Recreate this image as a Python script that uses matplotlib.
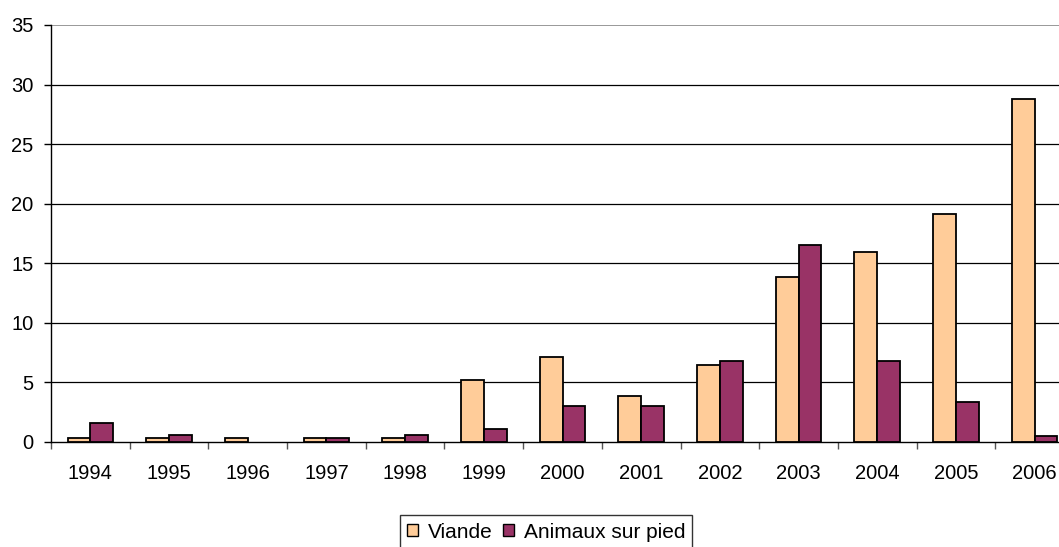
import numpy as np
import matplotlib.pyplot as plt
from matplotlib.patches import Patch

plt.rcParams['font.family'] = ['Liberation Sans', 'DejaVu Sans']

years = ['1994', '1995', '1996', '1997', '1998', '1999', '2000',
         '2001', '2002', '2003', '2004', '2005', '2006']
viande = [0.3, 0.3, 0.3, 0.3, 0.3, 5.2, 7.1, 3.8, 6.45, 13.85, 15.95, 19.1, 28.8]
animaux = [1.6, 0.6, 0.0, 0.3, 0.6, 1.1, 3.0, 3.0, 6.75, 16.5, 6.75, 3.3, 0.5]

c_viande = '#FFCC99'
c_animaux = '#993366'

fig = plt.figure(figsize=(10.59, 5.47), dpi=100)
ax = fig.add_axes([51 / 1059, 1 - 441.7 / 547, 1023 / 1059, (441.7 - 25) / 547])

x = np.arange(len(years))
w = 0.29
# zero values get no bar at all
v = np.where(np.array(viande) == 0, np.nan, viande)
a = np.where(np.array(animaux) == 0, np.nan, animaux)
ax.bar(x - w / 2, v, w, color=c_viande, edgecolor='black', linewidth=1.3, zorder=3)
ax.bar(x + w / 2, a, w, color=c_animaux, edgecolor='black', linewidth=1.3, zorder=3)

ax.set_xlim(-0.5, len(years) - 0.5)
ax.set_ylim(0, 35)
ax.set_yticks(range(0, 36, 5))
ax.set_xticks(x)
ax.set_xticklabels(years)
ax.set_xticks(np.arange(-0.5, len(years), 1), minor=True)
ax.tick_params(axis='x', which='major', length=0, pad=16, labelsize=14.5)
ax.tick_params(axis='x', which='minor', length=5, width=1, color='#555555')
ax.tick_params(axis='y', length=5, width=1, labelsize=14.5, pad=7.5)

for yv in range(5, 35, 5):
    ax.axhline(yv, color='black', linewidth=0.9, zorder=1)
ax.axhline(35, color='#888888', linewidth=1.2, zorder=1)

for s in ['top', 'right']:
    ax.spines[s].set_visible(False)
ax.spines['left'].set_linewidth(1)
ax.spines['bottom'].set_linewidth(1)

handles = [Patch(facecolor=c_viande, edgecolor='black', label='Viande'),
           Patch(facecolor=c_animaux, edgecolor='black', label='Animaux sur pied')]
leg = fig.legend(handles=handles, loc='center', bbox_to_anchor=(546 / 1059, 1 - 532 / 547),
                 ncol=2, fontsize=15, frameon=True, fancybox=False, edgecolor='black',
                 handlelength=0.53, handleheight=0.53, handletextpad=0.48, columnspacing=0.48,
                 borderpad=0.35, borderaxespad=0)
leg.get_frame().set_linewidth(1)

fig.savefig('out.png', dpi=100)
